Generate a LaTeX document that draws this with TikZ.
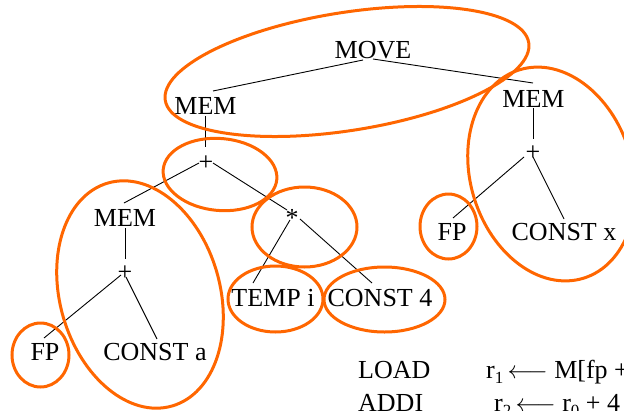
\documentclass[tikz,border=0pt]{standalone}
\usepackage{fontspec}
\setmainfont{Liberation Serif}
\begin{document}
\begin{tikzpicture}[x=1pt,y=-1pt,
  lbl/.style={inner sep=0pt,anchor=base,font=\fontsize{26}{30}\selectfont},
  lbll/.style={inner sep=0pt,anchor=base west,font=\fontsize{26}{30}\selectfont},
  edge/.style={draw=black,line width=0.9pt},
  grp/.style={draw={rgb,255:red,255;green,102;blue,0},line width=3pt}]
\useasboundingbox (0,0) rectangle (624,410);
\clip (0,0) rectangle (624,410);
\newcommand{\sbs}[1]{\raisebox{-0.22em}{\fontsize{17}{17}\selectfont #1}}
% labels
\node[lbl] (MOVE) at (373,58) {MOVE};
\node[lbl] (MEMa) at (205.5,114) {MEM};
\node[lbl] (MEMb) at (533.5,107) {MEM};
\node[lbl] (P1) at (206,170) {+};
\node[lbl] (MEMc) at (125,226) {MEM};
\node[lbl] (star) at (292,226) {*};
\node[lbl] (P2) at (125,280) {+};
\node[lbl] (TEMP) at (273,306) {TEMP i};
\node[lbl] (C4) at (380,306) {CONST 4};
\node[lbl] (FPa) at (45,360) {FP};
\node[lbl] (CONSTa) at (155,360) {CONST a};
\node[lbl] (P3) at (533,160) {+};
\node[lbl] (FPb) at (452,240) {FP};
\node[lbl] (CONSTx) at (564,240) {CONST x};
\node[lbll] (LOAD) at (358,378) {LOAD};
\node[lbll] (I1) at (486,378) {r\sbs{1}\,$\longleftarrow$ M[fp + a]};
\node[lbll] (ADDI) at (358,411) {ADDI};
\node[lbll] (I2) at (494,411) {r\sbs{2}\,$\longleftarrow$ r\sbs{0} + 4};
% edges
\draw[edge] ([shift={(-10,2)}]MOVE.base) -- ([shift={(7.5,-23)}]MEMa.base);
\draw[edge] ([shift={(0,1)}]MOVE.base) -- ([shift={(-0.5,-24)}]MEMb.base);
\draw[edge] ([shift={(-0.5,2)}]MEMa.base) -- ([shift={(-1,-23)}]P1.base);
\draw[edge] ([shift={(-7,-7)}]P1.base) -- ([shift={(-1,-23)}]MEMc.base);
\draw[edge] ([shift={(7,-7)}]P1.base) -- ([shift={(-5,-16)}]star.base);
\draw[edge] ([shift={(0,2)}]MEMc.base) -- ([shift={(0,-21)}]P2.base);
\draw[edge] ([shift={(-4,-5)}]P2.base) -- ([shift={(-1,-22)}]FPa.base);
\draw[edge] ([shift={(1,-3)}]P2.base) -- ([shift={(2,-21)}]CONSTa.base);
\draw[edge] ([shift={(-2,-6)}]star.base) -- ([shift={(-20,-23)}]TEMP.base);
\draw[edge] ([shift={(8,-7)}]star.base) -- ([shift={(-8,-23)}]C4.base);
\draw[edge] ([shift={(-0.5,1)}]MEMb.base) -- ([shift={(0,-21)}]P3.base);
\draw[edge] ([shift={(-9,-3)}]P3.base) -- ([shift={(1,-22)}]FPb.base);
\draw[edge] ([shift={(0,-3)}]P3.base) -- ([shift={(0,-21)}]CONSTx.base);
% groups
\draw[grp, rotate around={9:(347,71.5)}] (347,71.5) ellipse [x radius=184pt, y radius=59pt];
\draw[grp, rotate around={17:(551.5,174)}] (551.5,174) ellipse [x radius=81pt, y radius=109pt];
\draw[grp, rotate around={16:(140,294.5)}] (140,294.5) ellipse [x radius=80pt, y radius=116pt];
\draw[grp, rotate around={-5:(220,174.5)}] (220,174.5) ellipse [x radius=57pt, y radius=36pt];
\draw[grp] (304.5,227) ellipse [x radius=52.5pt, y radius=40pt];
\draw[grp] (275.5,299) ellipse [x radius=47.5pt, y radius=33pt];
\draw[grp] (384.5,299.5) ellipse [x radius=60.5pt, y radius=32.5pt];
\draw[grp] (40.5,355) ellipse [x radius=28.5pt, y radius=32pt];
\draw[grp] (448.5,226.5) ellipse [x radius=28.5pt, y radius=32.5pt];
\end{tikzpicture}
\end{document}
